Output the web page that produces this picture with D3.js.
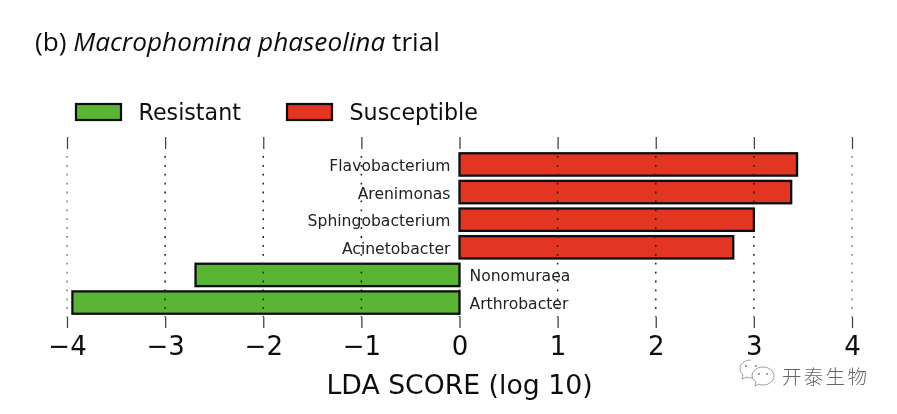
<!DOCTYPE html>
<html><head><meta charset="utf-8">
<script src="https://cdn.jsdelivr.net/npm/d3@7/dist/d3.min.js"></script>
<style>html,body{margin:0;padding:0;background:#fff}svg{display:block}</style></head>
<body><svg id="c" width="897" height="414"></svg>
<script>
const categories=["Flavobacterium","Arenimonas","Sphingobacterium","Acinetobacter","Nonomuraea","Arthrobacter"];
const ldaValues=[3.44,3.38,3.0,2.79,-2.69,-3.945];
const tickValues=[-4,-3,-2,-1,0,1,2,3,4];
const legendLabels=["Resistant","Susceptible"];
const GREEN="#5ab536",RED="#e23420";
const root=d3.select("#c");
root.append("defs").append("filter").attr("id","soft").append("feGaussianBlur").attr("stdDeviation",0.4);
const svg=root.append("g").attr("filter","url(#soft)");
const font='"DejaVu Sans",sans-serif';
const x=d3.scaleLinear().domain([-4,4]).range([67,852]);
const y=d3.scaleBand().domain(categories).range([150.5,316.5]).paddingInner(0.19).paddingOuter(0.1);
svg.append("text").attr("x",35).attr("y",51).attr("font-family",'"Open Sans",sans-serif').attr("font-size",26.2).attr("fill","#111")
  .html('(b) <tspan font-style="italic">Macrophomina phaseolina</tspan> trial');
// bars
svg.append("g").selectAll("rect").data(ldaValues).join("rect")
  .attr("x",d=>Math.min(x(0),x(d))).attr("width",d=>Math.abs(x(d)-x(0)))
  .attr("y",(d,i)=>y(categories[i])).attr("height",y.bandwidth())
  .attr("fill",d=>d<0?GREEN:RED).attr("stroke","#111").attr("stroke-width",2.3);
// grid
const grid=svg.append("g");
grid.selectAll("line").data(tickValues).join("line")
  .attr("x1",d=>x(d)).attr("x2",d=>x(d)).attr("y1",149).attr("y2",317)
  .attr("stroke",d=>Math.abs(d)===4?"#888":"#222").attr("stroke-width",1.6).attr("stroke-dasharray","1.8 7.1").attr("stroke-dashoffset",-7);
// axes
const bottom=svg.append("g").attr("transform","translate(0,317)").call(d3.axisBottom(x).tickValues(tickValues).tickSize(11).tickPadding(9).tickFormat(d=>d<0?"\u2212"+(-d):d));
const top_=svg.append("g").attr("transform","translate(0,149)").call(d3.axisTop(x).tickValues(tickValues).tickSize(12).tickFormat(""));
[bottom,top_].forEach(g=>{g.select(".domain").remove();g.selectAll(".tick line").attr("stroke","#444").attr("stroke-width",1.3);});
bottom.selectAll("text").attr("font-family",font).attr("font-size",26).attr("fill","#111");
// labels
svg.append("g").selectAll("text").data(ldaValues).join("text")
  .attr("x",d=>d<0?x(0)+10:x(0)-9).attr("y",(d,i)=>y(categories[i])+y.bandwidth()/2+6.5)
  .attr("text-anchor",d=>d<0?"start":"end").attr("font-family",font).attr("font-size",15.6).attr("fill","#222")
  .text((d,i)=>categories[i]);
svg.append("text").attr("x",459.5).attr("y",394).attr("text-anchor","middle").attr("font-family",font).attr("font-size",26.7).attr("fill","#111").text("LDA SCORE (log 10)");
// legend
const lx=d3.scaleOrdinal().domain(legendLabels).range([76,287]);
const lg=svg.append("g").selectAll("g").data(legendLabels).join("g").attr("transform",d=>`translate(${lx(d)},104)`);
lg.append("rect").attr("width",45).attr("height",16).attr("fill",(d,i)=>i?RED:GREEN).attr("stroke","#111").attr("stroke-width",2.2);
lg.append("text").attr("x",62.5).attr("y",16).attr("font-family",font).attr("font-size",22.2).attr("fill","#111").text(d=>d);
// watermark
const wm=svg.append("g").attr("fill","#fff").attr("stroke","#777").attr("stroke-width",.7);
wm.append("path").attr("d","M751,360c-7,0-11,4-11,9c0,3,2,5,3,6l-1,4l5-2c2,1,4,1,6,1");
wm.append("path").attr("d","M763,367c6,0,11,4,11,9c0,5-5,9-11,9c-1,0-3,0-4,-1l-4,2l1,-4c-2,-2-4,-4-4,-6c0,-5,5,-9,11,-9z");
wm.selectAll("circle").data([[746,366],[756,366],[759,374],[767,374]]).join("circle").attr("cx",d=>d[0]).attr("cy",d=>d[1]).attr("r",.9).attr("fill","#777").attr("stroke","none");
svg.append("text").attr("x",782).attr("y",384).attr("font-family",'"Noto Sans CJK SC",sans-serif').attr("font-weight",300).attr("font-size",19.5).attr("letter-spacing",2.3).attr("fill","#666").text("开泰生物");
</script></body></html>
